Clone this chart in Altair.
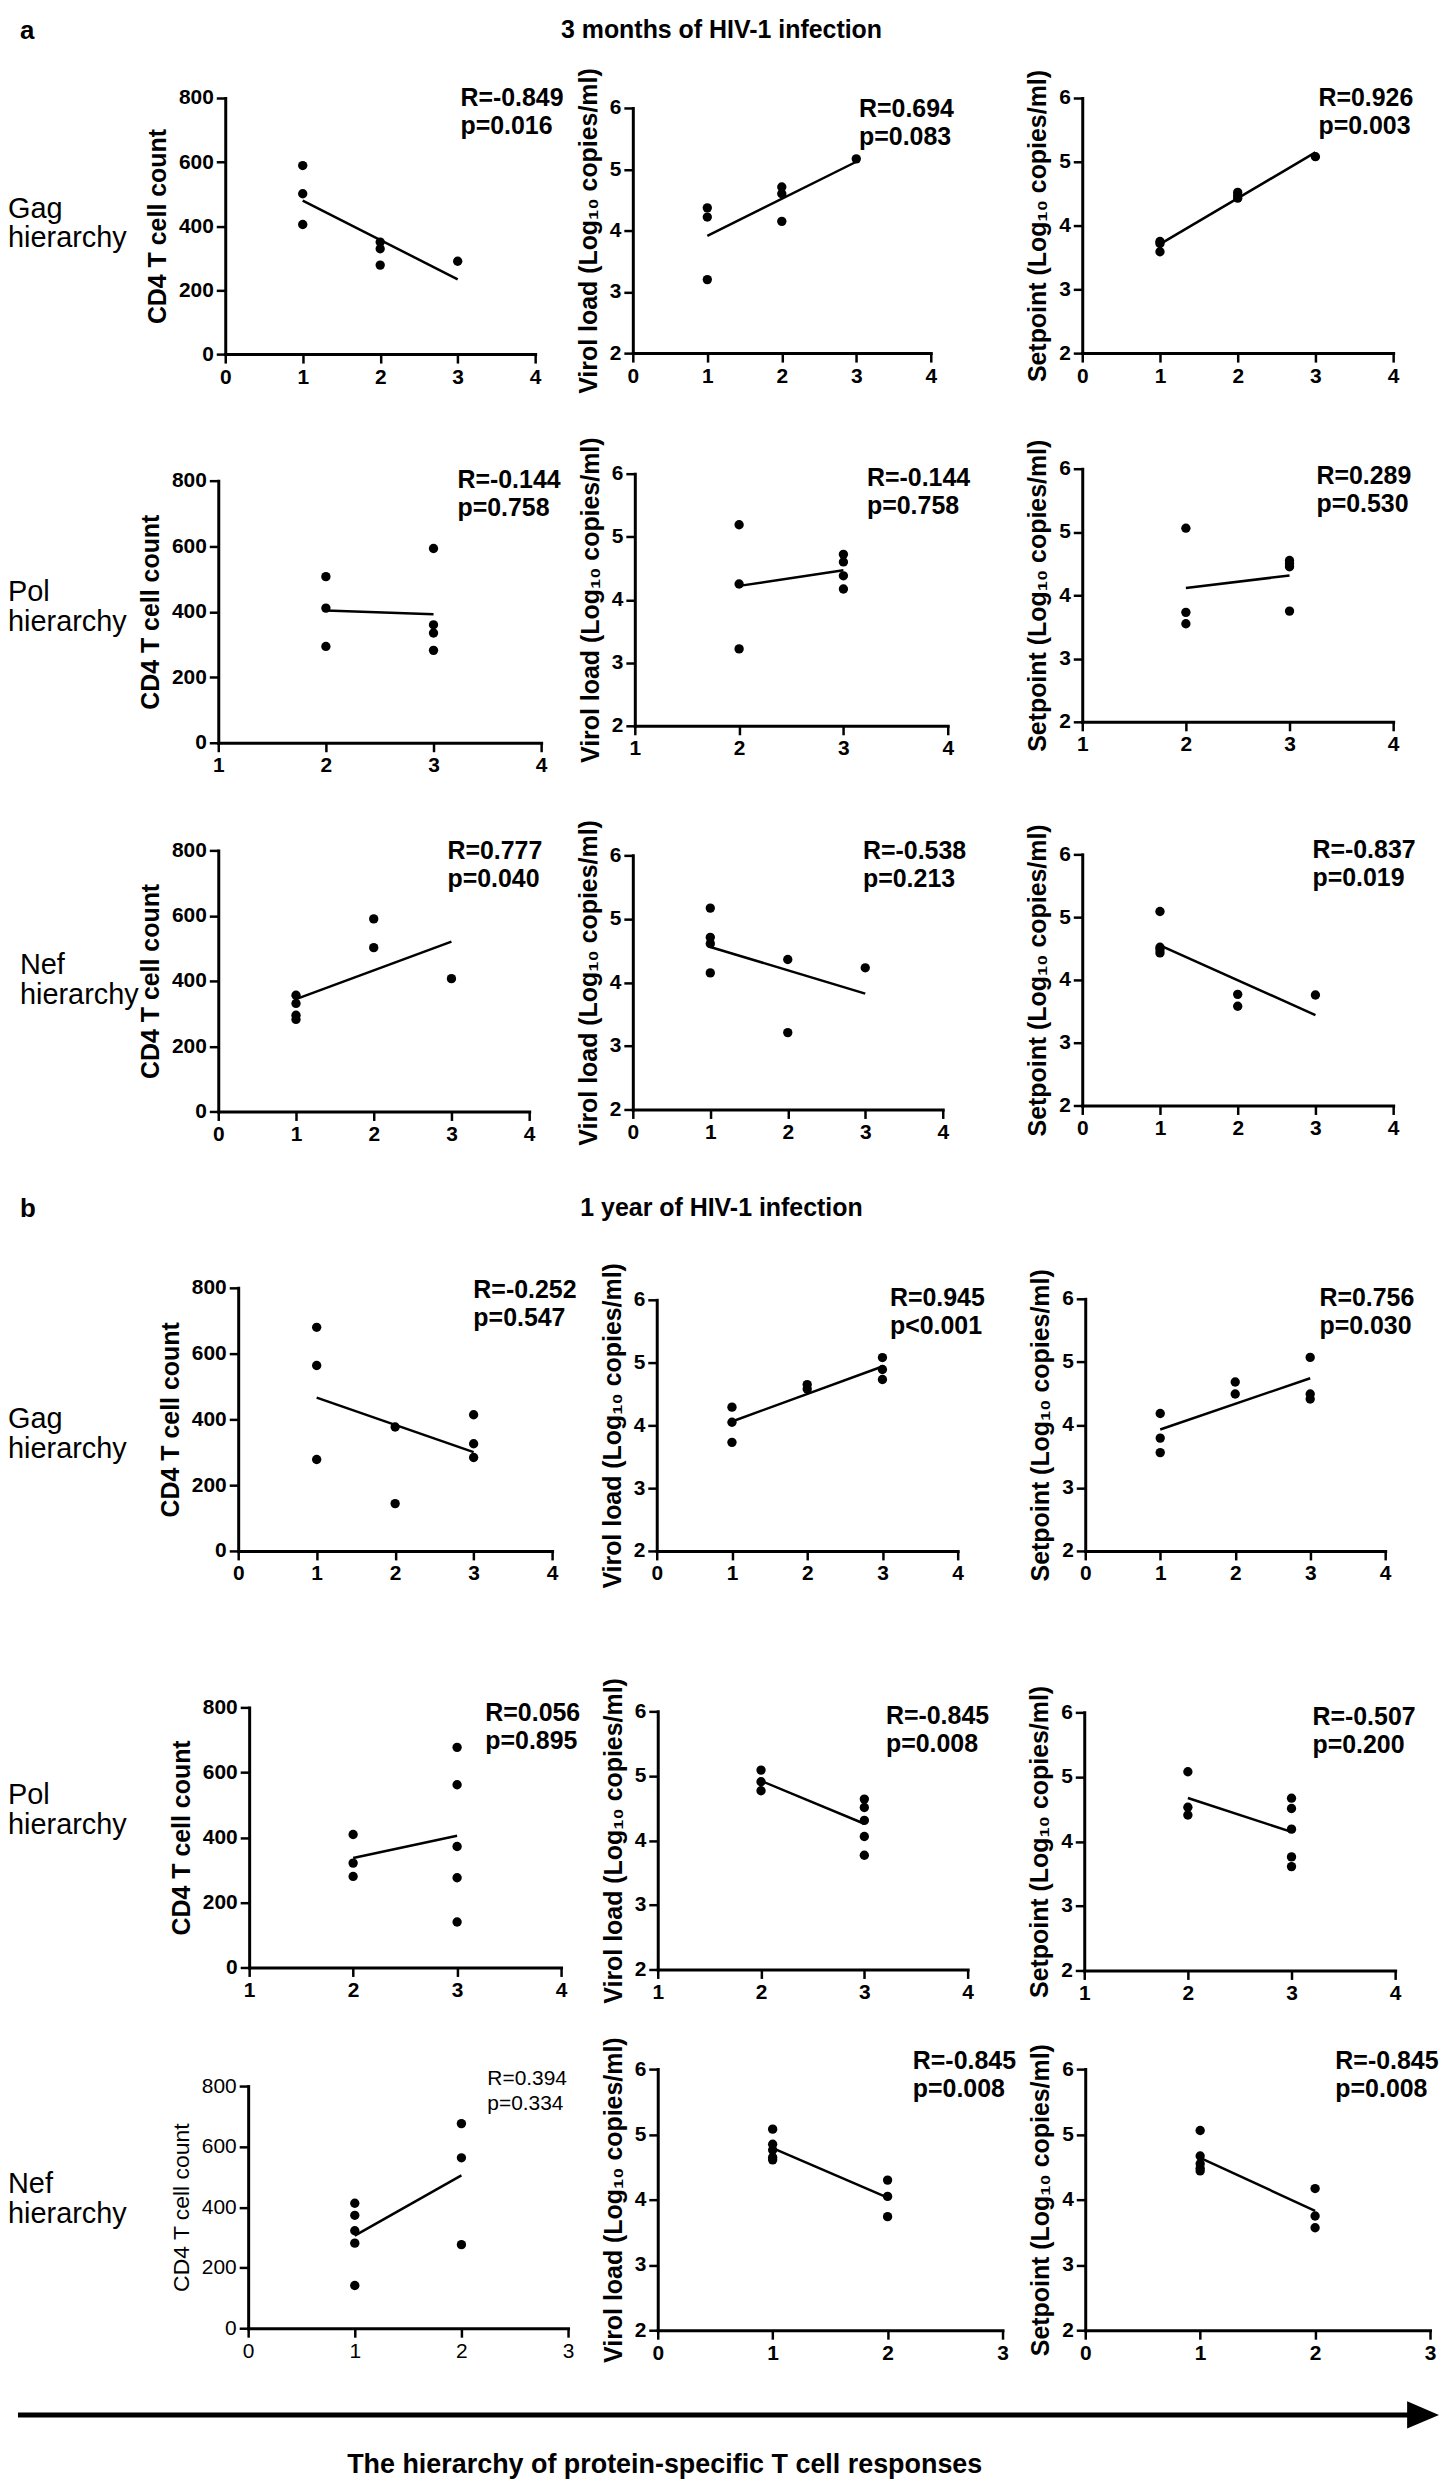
import altair as alt
import pandas as pd

FONT = "Liberation Sans"

# ---------------- data ----------------
# a: 3 months of HIV-1 infection
a_gag_x = [1, 1, 1, 2, 2, 2, 3]
a_gag_cd4 = [589, 501, 405, 350, 329, 278, 290]
a_gag_vl = [4.37, 4.22, 3.20, 4.71, 4.60, 4.15, 5.17]
a_gag_sp = [3.75, 3.72, 3.59, 4.52, 4.47, 4.43, 5.08]

a_pol_x = [2, 2, 2, 3, 3, 3, 3]
a_pol_cd4 = [507, 411, 294, 593, 360, 335, 282]
a_pol_vl = [5.19, 4.25, 3.22, 4.72, 4.60, 4.38, 4.17]
a_pol_sp = [5.06, 3.73, 3.55, 4.55, 4.50, 4.45, 3.75]

a_nef_x = [1, 1, 1, 1, 2, 2, 3]
a_nef_cd4 = [356, 331, 295, 282, 590, 502, 407]
a_nef_vl = [5.17, 4.71, 4.61, 4.15, 4.36, 3.21, 4.23]
a_nef_sp = [5.09, 4.52, 4.48, 4.43, 3.77, 3.58, 3.76]

# b: 1 year of HIV-1 infection
b_gag_x = [1, 1, 1, 2, 2, 3, 3, 3]
b_gag_cd4 = [680, 564, 278, 377, 144, 414, 326, 284]
b_gag_vl = [4.29, 4.05, 3.73, 4.65, 4.58, 5.08, 4.89, 4.73]
b_gag_sp = [4.18, 3.79, 3.56, 4.68, 4.49, 5.07, 4.49, 4.41]

b_pol_x = [2, 2, 2, 3, 3, 3, 3, 3]
b_pol_cd4 = [409, 321, 280, 677, 562, 372, 276, 140]
b_pol_vl = [5.09, 4.91, 4.77, 4.64, 4.51, 4.31, 4.06, 3.77]
b_pol_sp = [5.08, 4.53, 4.41, 4.67, 4.51, 4.19, 3.76, 3.61]

b_nef_x = [1, 1, 1, 1, 1, 2, 2, 2]
b_nef_cd4 = [413, 373, 322, 281, 141, 676, 563, 276]
b_nef_vl = [5.08, 4.85, 4.76, 4.65, 4.61, 4.30, 4.05, 3.74]
b_nef_sp = [5.06, 4.67, 4.55, 4.48, 4.44, 4.17, 3.75, 3.57]

stats = [
    ["R=-0.849\np=0.016", "R=0.694\np=0.083", "R=0.926\np=0.003"],
    ["R=-0.144\np=0.758", "R=-0.144\np=0.758", "R=0.289\np=0.530"],
    ["R=0.777\np=0.040", "R=-0.538\np=0.213", "R=-0.837\np=0.019"],
    ["R=-0.252\np=0.547", "R=0.945\np<0.001", "R=0.756\np=0.030"],
    ["R=0.056\np=0.895", "R=-0.845\np=0.008", "R=-0.507\np=0.200"],
    ["R=0.394\np=0.334", "R=-0.845\np=0.008", "R=-0.845\np=0.008"],
]
row_labels = ["Gag\nhierarchy", "Pol\nhierarchy", "Nef\nhierarchy",
              "Gag\nhierarchy", "Pol\nhierarchy", "Nef\nhierarchy"]
y_titles = ["CD4 T cell count", "Virol load (Log\u2081\u2080 copies/ml)",
            "Setpoint (Log\u2081\u2080 copies/ml)"]
x_domains = [[0, 4], [1, 4], [0, 4], [0, 4], [1, 4], [0, 3]]
cd4_ticks = [0, 200, 400, 600, 800]
log_ticks = [2, 3, 4, 5, 6]
title_a = "3 months of HIV-1 infection"
title_b = "1 year of HIV-1 infection"
footer_text = "The hierarchy of protein-specific T cell responses"

rows_data = [
    [(a_gag_x, a_gag_cd4), (a_gag_x, a_gag_vl), (a_gag_x, a_gag_sp)],
    [(a_pol_x, a_pol_cd4), (a_pol_x, a_pol_vl), (a_pol_x, a_pol_sp)],
    [(a_nef_x, a_nef_cd4), (a_nef_x, a_nef_vl), (a_nef_x, a_nef_sp)],
    [(b_gag_x, b_gag_cd4), (b_gag_x, b_gag_vl), (b_gag_x, b_gag_sp)],
    [(b_pol_x, b_pol_cd4), (b_pol_x, b_pol_vl), (b_pol_x, b_pol_sp)],
    [(b_nef_x, b_nef_cd4), (b_nef_x, b_nef_vl), (b_nef_x, b_nef_sp)],
]

# ---------------- layout (page pixels) ----------------
col_left = [8, 210, 625, 1080]
col_w = [202, 415, 455, 360]
grid_tops = [8, 60, 345, 735, 1105, 1230, 1546, 1967, 2328, 2470]
data_grid_rows = [1, 2, 3, 5, 6, 7]

# plot boxes: left, right, top, bottom
boxes = [
    [(226, 537, 88, 345), (635, 934, 98, 344), (1086, 1398, 88, 344)],
    [(219, 543, 472, 735), (637, 951, 465, 718), (1086, 1398, 460, 714)],
    [(219, 531, 843, 1105), (635, 946, 848, 1103), (1086, 1398, 847, 1099)],
    [(239, 554, 1282, 1546), (659, 961, 1294, 1546), (1089, 1390, 1293, 1546)],
    [(250, 563, 1703, 1964), (660, 971, 1707, 1966), (1088, 1400, 1708, 1967)],
    [(249, 570, 2083, 2326), (660, 1006, 2066, 2328), (1089, 1435, 2066, 2328)],
]
ann_pos = [
    [(462, 79), (862, 90), (1323, 79)],
    [(459, 462), (870, 460), (1321, 458)],
    [(449, 835), (866, 835), (1317, 834)],
    [(475, 1275), (893, 1283), (1324, 1283)],
    [(487, 1700), (889, 1703), (1317, 1704)],
    [(489, 2068), (916, 2049), (1340, 2049)],
]
label_pos = [(8, 188), (8, 573), (20, 947), (8, 1403), (8, 1780), (8, 2170)]


def blank(col, h):
    return alt.Chart(pd.DataFrame({"t": [""]})).mark_text().encode(
        text="t:N", x=alt.value(0), y=alt.value(0)
    ).properties(width=col_w[col], height=h)


def text_layer(txt, x, y, size, weight="bold", align="left", baseline="top", lh=None):
    kw = dict(align=align, baseline=baseline, fontSize=size, fontWeight=weight,
              font=FONT, color="black", lineBreak="\n")
    if lh is not None:
        kw["lineHeight"] = lh
    return alt.Chart(pd.DataFrame({"t": [txt]})).mark_text(**kw).encode(
        text="t:N", x=alt.value(x), y=alt.value(y))


def panel(r, c, rtop, rbot):
    xs, ys = rows_data[r][c]
    L, R, T, B = boxes[r][c]
    cl = col_left[c + 1]
    weight = "normal" if (r == 5 and c == 0) else "bold"
    xdom = x_domains[r]
    ydom = [0, 800] if c == 0 else [2, 6]
    yticks = cd4_ticks if c == 0 else log_ticks
    common = dict(domainColor="black", domainWidth=3, domainCap="square",
                  tickColor="black", tickWidth=2.5, tickSize=9,
                  labelColor="black", labelFont=FONT, labelFontSize=21,
                  labelFontWeight=weight, labelFlush=False, labelOverlap=False,
                  grid=False)
    xax = alt.Axis(values=list(range(xdom[0], xdom[1] + 1)), format="d", title=None,
                   offset=B - rbot, labelPadding=3, **common)
    yax = alt.Axis(values=yticks, format="d", title=y_titles[c], offset=-(L - cl),
                   labelPadding=3, titleFont=FONT, titleFontSize=25 if weight == "bold" else 23,
                   titleFontWeight=weight, titleColor="black", titlePadding=8, **common)
    df = pd.DataFrame({"x": xs, "y": ys})
    base = alt.Chart(df).encode(
        x=alt.X("x:Q", scale=alt.Scale(domain=xdom, range=[L - cl, R - cl], nice=False, zero=False), axis=xax),
        y=alt.Y("y:Q", scale=alt.Scale(domain=ydom, range=[B - rtop, T - rtop], nice=False, zero=False), axis=yax),
    )
    pts = base.mark_circle(size=88, color="black", opacity=1)
    line = base.transform_regression("x", "y").mark_line(color="black", strokeWidth=2.5)
    ax, ay = ann_pos[r][c]
    if weight == "bold":
        ann = text_layer(stats[r][c], ax - cl, ay - rtop - 3, 25, "bold", lh=28)
    else:
        ann = text_layer(stats[r][c], ax - cl, ay - rtop - 3, 21, "normal", lh=25)
    return alt.layer(pts, line, ann).properties(width=col_w[c + 1], height=rbot - rtop)


cells = []
n_grid = len(grid_tops) - 1
for g in range(n_grid):
    rtop, rbot = grid_tops[g], grid_tops[g + 1]
    h = rbot - rtop
    if g in data_grid_rows:
        r = data_grid_rows.index(g)
        lx, ly = label_pos[r]
        lab = text_layer(row_labels[r], lx - 8, ly - rtop - 3, 29, "normal", lh=30).properties(
            width=col_w[0], height=h)
        cells.append(lab)
        for c in range(3):
            cells.append(panel(r, c, rtop, rbot))
    elif g in (0, 4):
        letter = "a" if g == 0 else "b"
        ttl = title_a if g == 0 else title_b
        ty = 0 if g == 0 else 1193 - rtop - 3
        hdr = alt.layer(
            text_layer(letter, 12, ty, 26, "bold"),
            text_layer(ttl, 716, ty, 25, "bold", align="center"),
        ).properties(width=col_w[0], height=h)
        cells.append(hdr)
        for c in range(1, 4):
            cells.append(blank(c, h))
    else:
        arrow_y = 2413 - rtop
        rule = alt.Chart(pd.DataFrame({"t": [0]})).mark_rule(color="black", strokeWidth=5).encode(
            x=alt.value(10), x2=alt.value(1418), y=alt.value(arrow_y))
        head = alt.Chart(pd.DataFrame({"t": [0]})).mark_point(
            shape="M -1 -0.85 L 1 0 L -1 0.85 Z", filled=True, size=1024, color="black", opacity=1
        ).encode(x=alt.value(1420), y=alt.value(arrow_y))
        ftxt = text_layer(footer_text, 659, 2463 - rtop, 27, "bold", align="center", baseline="middle")
        cells.append(alt.layer(rule, head, ftxt).properties(width=col_w[0], height=h))
        for c in range(1, 4):
            cells.append(blank(c, h))

chart = alt.concat(*cells, columns=4, spacing=0, bounds="flush").properties(
    padding=0, background="white"
).configure_view(stroke=None)

chart.save("out.html", embed_options={"renderer": "svg", "actions": False})
